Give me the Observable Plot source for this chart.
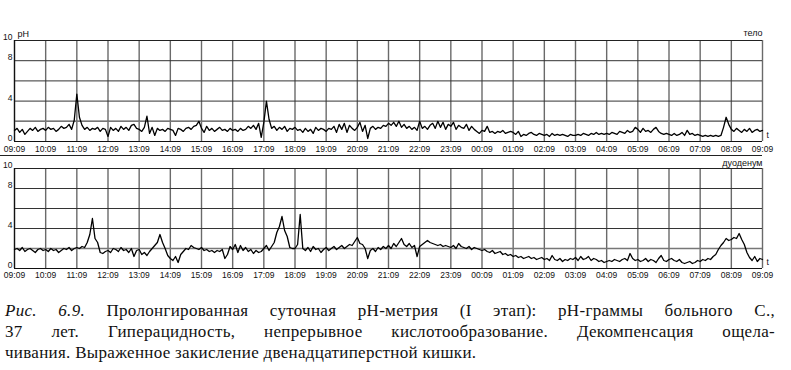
<!DOCTYPE html>
<html>
<head>
<meta charset="utf-8">
<script src="https://cdn.jsdelivr.net/npm/d3@7"></script>
<script src="https://cdn.jsdelivr.net/npm/@observablehq/plot@0.6"></script>
<style>
  html, body { margin: 0; padding: 0; background: #fff; }
  #wrap { width: 791px; }
  svg { display: block; }
  .sep { width: 762px; height: 0; border-top: 1px solid #222; }
  .cap { font-family: "Liberation Serif", "DejaVu Serif", serif; font-size: 17px; letter-spacing: 0.3px; line-height: 21px; color: #111; margin: 18px 16px 0 5px; }
  .cap div { text-align: justify; }
  .cap .j { text-align-last: justify; }
  .cap i { font-style: italic; }
</style>
</head>
<body>
<div id="wrap">
  <div id="top"></div>
  <div class="sep"></div>
  <div id="bottom"></div>
  <div class="cap">
    <div class="j"><i>Рис. 6.9.</i> Пролонгированная суточная pH-метрия (I этап): pH-граммы больного С.,</div>
    <div class="j">37 лет. Гиперацидность, непрерывное кислотообразование. Декомпенсация ощела-</div>
    <div>чивания. Выраженное закисление двенадцатиперстной кишки.</div>
  </div>
</div>
<script>
// Time tick labels (hours since start 09:09)
const timeLabels = ["09:09","10:09","11:09","12:09","13:09","14:09","15:09","16:09","17:09","18:09","19:09","20:09","21:09","22:09","23:09","00:09","01:09","02:09","03:09","04:09","05:09","06:09","07:09","08:09","09:09"];
const yTicks = [0, 4, 8, 10];
const yGrid = [2, 4, 6, 8];
const panelTitles = ["тело", "дуоденум"];

// pH readings every 5 minutes, stomach body (тело), one row per hour
const phBody = [
  1.1,1.3,0.9,1.2,0.7,1.0,1.3,1.1,1.4,1.0,1.2,1.3,
  1.1,1.4,1.2,1.3,1.0,1.2,1.5,1.3,1.4,1.7,1.2,2.1,
  4.7,2.4,1.6,1.2,1.4,1.1,1.3,1.2,1.4,1.0,1.3,1.2,
  0.5,1.4,1.1,1.3,1.0,1.5,1.2,1.4,1.1,1.6,1.7,1.3,
  1.2,1.0,1.4,2.5,0.8,1.4,0.6,1.3,1.1,1.2,1.0,1.3,
  1.2,1.1,0.6,1.3,1.2,1.0,1.3,1.4,1.2,1.5,1.6,2.0,
  1.3,0.9,1.5,1.1,1.3,1.0,1.2,1.4,1.1,1.2,1.0,1.3,
  1.1,1.2,1.0,1.3,1.1,1.2,1.5,1.3,1.6,1.2,1.8,0.4,
  1.9,4.0,2.2,1.3,1.5,1.1,1.4,1.2,1.5,1.0,1.3,1.2,
  1.4,1.1,1.2,0.9,1.3,1.0,1.2,0.8,1.4,1.1,1.3,1.2,
  1.0,1.3,1.2,1.5,0.9,1.7,1.2,1.8,0.9,1.6,1.3,1.1,
  1.4,1.9,1.0,1.6,0.3,1.3,1.5,1.2,1.4,1.3,1.6,1.5,
  1.8,1.6,1.9,1.5,2.0,1.4,1.7,1.3,1.5,1.2,1.4,1.1,
  2.0,1.3,1.5,1.2,1.6,1.8,1.3,2.0,1.4,1.9,1.2,1.7,
  1.5,1.9,1.2,1.6,1.4,1.3,1.7,1.1,1.5,1.2,1.0,0.8,
  1.1,1.0,1.5,0.9,1.0,0.8,1.0,0.9,1.1,0.8,0.9,1.0,
  0.9,0.7,1.0,0.5,0.7,0.6,0.8,0.9,0.7,0.6,0.8,0.7,
  0.6,0.7,0.5,0.8,0.6,0.7,0.6,0.7,0.6,0.5,0.7,0.6,
  0.6,0.7,0.6,0.8,0.7,0.6,0.8,0.7,0.9,0.7,0.8,0.7,
  0.8,0.7,0.9,0.8,0.7,1.0,0.9,0.8,1.1,0.9,1.0,1.4,
  1.2,0.9,1.3,1.0,1.1,0.9,1.2,1.4,1.0,0.8,0.7,0.8,
  0.7,0.6,0.8,0.6,0.7,0.9,0.6,1.1,0.7,0.8,0.6,0.7,
  0.6,0.5,0.6,0.5,0.6,0.5,0.6,0.5,0.6,1.4,2.4,1.7,
  1.2,1.0,1.3,1.1,0.9,1.2,1.0,1.3,0.9,1.1,1.2,1.0,
  1.1
];

// pH readings every 5 minutes, duodenum (дуоденум)
const phDuodenum = [
  1.9,2.0,1.8,2.1,1.7,1.9,2.0,1.8,1.6,1.9,2.0,1.8,
  1.9,1.7,2.0,1.8,1.9,1.6,1.8,2.0,1.9,2.1,1.8,2.0,
  2.1,2.0,2.2,2.1,2.6,3.4,5.0,3.0,2.6,1.6,1.5,1.7,
  1.8,1.6,2.0,1.9,1.7,2.1,1.8,1.9,1.6,2.0,1.2,1.8,
  1.9,1.4,1.6,1.3,1.7,2.0,2.3,2.6,3.4,2.6,2.0,1.3,
  1.0,0.8,1.2,0.6,1.4,1.7,2.0,1.9,2.3,2.1,2.0,1.9,
  2.1,1.8,1.9,1.7,1.8,1.6,1.8,1.7,1.9,1.0,1.4,2.2,
  1.9,2.4,1.6,2.3,1.8,2.1,1.7,1.9,1.5,1.8,1.6,1.7,
  2.0,2.3,1.8,2.2,2.6,3.6,4.2,5.2,3.8,3.2,2.1,2.0,
  2.0,2.4,5.4,2.0,1.8,2.1,1.7,2.2,1.9,2.0,1.6,1.9,
  2.1,1.8,2.0,2.2,1.9,2.1,2.3,2.0,2.2,2.4,2.3,2.7,
  3.1,2.5,2.4,2.0,1.0,1.8,2.0,1.7,2.1,1.9,2.2,2.0,
  2.3,2.0,2.5,2.2,2.6,3.0,2.4,2.2,2.5,2.1,2.3,1.2,
  2.2,2.4,2.6,2.8,2.6,2.5,2.4,2.3,2.4,2.2,2.3,2.2,
  2.1,2.3,2.0,2.5,2.2,2.1,2.0,2.2,1.9,2.1,2.0,1.9,
  1.8,1.9,1.7,1.6,1.8,1.5,1.6,1.7,1.4,1.5,1.3,1.4,
  1.2,1.3,1.1,1.2,1.0,1.1,1.2,1.0,1.1,0.9,1.0,1.1,
  0.9,1.0,0.8,1.3,0.9,0.8,1.0,0.7,0.9,0.8,1.0,0.9,
  1.1,0.8,1.2,0.9,1.0,1.2,0.8,1.0,0.9,0.7,0.8,0.6,
  0.7,0.8,0.7,0.9,0.8,0.7,0.9,1.0,0.8,1.5,1.0,0.8,
  0.9,0.7,0.8,1.0,0.7,0.9,0.8,0.6,1.0,1.3,0.8,0.7,
  0.9,1.0,0.8,0.7,0.9,0.6,0.5,0.6,0.7,0.5,0.6,0.8,
  0.7,0.9,0.8,1.0,0.9,1.2,1.4,1.9,2.3,2.6,3.0,2.8,
  2.9,3.1,3.0,3.5,2.9,2.4,1.6,1.1,0.8,1.2,0.7,1.0,
  0.9
];

const hours = d3.range(timeLabels.length);

function panel(values, title, opts) {
  const data = values.map((v, i) => ({t: i / 12, ph: v}));
  return Plot.plot({
    width: 791,
    height: opts.height,
    marginLeft: 14,
    marginRight: 29,
    marginTop: opts.marginTop,
    marginBottom: opts.marginBottom,
    style: {fontFamily: "Liberation Sans, Arial, sans-serif", fontSize: "8.5px", color: "#111", background: "#fff"},
    x: {domain: [0, 24], axis: null, label: null},
    y: {domain: [0, 10], axis: null, label: null},
    marks: [
      Plot.ruleX(hours, {stroke: "#6a6a6a", strokeWidth: 1.4}),
      Plot.ruleY(yGrid, {stroke: "#333", strokeWidth: 1}),
      Plot.ruleY([2], {stroke: "#777", strokeWidth: 1.5}),
      Plot.ruleY([10], {stroke: "#222", strokeWidth: 1}),
      Plot.ruleX([0], {stroke: "#111", strokeWidth: 1.2}),
      Plot.axisX({ticks: hours, tickSize: 0, tickPadding: opts.tickPad, tickFormat: (d) => timeLabels[d], fontSize: 8.5, label: null}),
      Plot.axisY({ticks: yTicks, tickSize: 0, tickPadding: 2, dy: -3, tickFormat: (d) => String(d), fontSize: 8.5, label: null}),
      Plot.line(data, {x: "t", y: "ph", stroke: "#000", strokeWidth: 1.3, curve: "linear"}),
      Plot.ruleY([0], {stroke: "#111", strokeWidth: 1.2}),
      opts.showPH ? Plot.text(["pH"], {frameAnchor: "top-left", dx: 3, dy: -10, fontSize: 9, textAnchor: "start"}) : null,
      Plot.text([title], {frameAnchor: "top-right", dx: 0, dy: opts.titleDy, fontSize: 9, textAnchor: "end"}),
      Plot.text(["t"], {frameAnchor: "bottom-right", dx: 4, dy: -6, fontSize: 8.5, textAnchor: "start", lineAnchor: "middle"})
    ]
  });
}

document.getElementById("top").append(panel(phBody, panelTitles[0], {height: 155, marginTop: 40, marginBottom: 14, tickPad: 4, showPH: true, titleDy: -11}));
document.getElementById("bottom").append(panel(phDuodenum, panelTitles[1], {height: 126, marginTop: 12, marginBottom: 14, tickPad: 3, showPH: false, titleDy: -9}));
</script>
</body>
</html>
